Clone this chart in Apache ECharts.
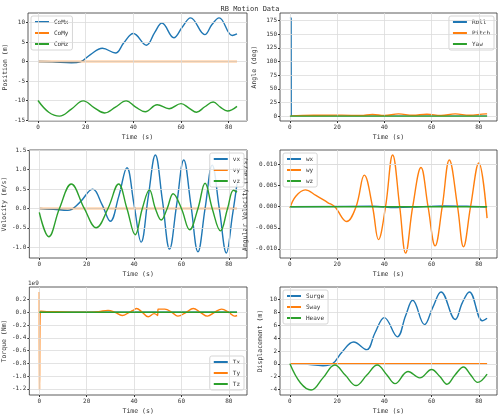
<!DOCTYPE html>
<html><head><meta charset="utf-8">
<script src="https://cdn.jsdelivr.net/npm/echarts@6/dist/echarts.min.js"></script>
<style>html,body{margin:0;padding:0;background:#fff}#c{width:500px;height:416px}</style>
</head><body><div id="c"></div>
<script>
// ---- data ([time, value]) ----
const comX = [[0,0],[6,-0.05],[14,-0.3],[18,0],[22,1.8],[27,3.4],[32.5,2.2],[36,4.8],[40,7.2],[45.5,4.2],[49,7.5],[52,9.9],[57,6.1],[60.5,8.8],[64,11.2],[70,6.9],[73,9.5],[76,11.2],[81.5,6.7],[83.5,7.1]];
const comY = [[0,0],[40,0],[83.5,0]];
const comZ = [[0,-10],[4.5,-13],[9,-14],[14,-12.2],[19,-10.1],[23.5,-11.8],[28,-13.2],[32.5,-11.7],[37,-10.1],[41,-11.7],[45,-12.9],[50,-11.1],[55,-12.1],[60,-10.8],[63.5,-12],[66.5,-13],[70,-11.6],[73.5,-10.4],[76.5,-11.7],[79.5,-12.7],[83.5,-11.5]];
const roll = [[0,180],[0.5,180],[0.55,0],[83.5,0]];
const pitch = [[0,0],[10,1.5],[22,1.8],[30,1],[35,3],[40,1],[46,4],[52,1.5],[58,3.5],[64,1],[70,4],[76,1.5],[83,4],[83.5,4]];
const yaw = [[0,0],[83.5,0]];
const vx = [[0,0],[6,-0.02],[12,-0.05],[17,0.15],[22.5,0.5],[26.5,0.1],[30,-0.33],[33.5,0.3],[37,1.05],[40,0.1],[43,-0.87],[46,0.3],[49,1.38],[52,0.2],[55,-1.05],[58,0.1],[61,1.25],[64,0.1],[67,-1.12],[70,0],[73,1.12],[76,0],[79,-1.15],[81.5,-0.2],[83.5,0.65]];
const vy = [[0,0],[83.5,0]];
const vz = [[0,-0.1],[4,-0.73],[8.5,0],[13.5,0.63],[19,0],[24,-0.5],[29,0],[33.5,0.63],[37,0],[40.5,-0.68],[43.5,0],[46.5,0.48],[49,0],[51.5,-0.3],[54,0],[56.5,0.38],[60,0],[63.5,-0.55],[67,0],[70,0.65],[73,0],[76.5,-0.58],[79.5,0],[82,0.47],[83.5,0.42]];
const wx = [[0,0],[35,0.0001],[45,-0.0002],[55,0],[65,0.0002],[75,0.0001],[83.5,-0.0001]];
const wy = [[0,-0.0003],[2.5,0.0025],[6.5,0.004],[11,0.0027],[16,0.001],[19,0],[24,-0.0035],[28,0],[31.5,0.0075],[35,0],[37.5,-0.0078],[40.5,0],[43.5,0.0123],[46.5,0],[49,-0.011],[52,0],[55.5,0.0093],[58.5,0],[61.5,-0.0093],[64.5,0],[67.5,0.0111],[71,0],[73.5,-0.0095],[76.5,0],[80,0.0104],[83.5,-0.0027]];
const wz = [[0,0],[83.5,0]];
const tx = [[0,0],[83.5,0]];
const ty = [[0,0.32],[0.1,-1.22],[0.5,0.02],[5,0.01],[20,0],[25,0.01],[29,0.03],[32,0],[35,-0.05],[38,0],[40,0.04],[41,0.06],[43.5,0],[46,-0.07],[48.5,-0.02],[50,-0.05],[50.1,0.05],[53,0.05],[56,0],[58.5,-0.06],[62,0],[65,0.06],[68,0],[71,-0.06],[74,0],[77,0.05],[80,0],[82.5,-0.06],[83.5,-0.05]];
const tz = [[0,0],[83.5,0]];
const surge = [[0,0],[6,-0.05],[14,-0.3],[18,0],[22,1.8],[27,3.4],[32.5,2.2],[36,4.8],[40,7.2],[45.5,4.2],[49,7.5],[52,9.9],[57,6.1],[60.5,8.8],[64,11.2],[70,6.9],[73,9.5],[76,11.2],[81.5,6.7],[83.5,7.1]];
const sway = [[0,0],[40,0],[83.5,0]];
const heave = [[0,0],[4.5,-3],[9,-4.1],[14,-2.2],[19,-0.2],[23.5,-1.8],[28,-3.4],[32.5,-1.8],[37,-0.2],[41,-1.7],[44.5,-3.1],[50,-1.2],[55,-2.2],[60,-0.9],[63.5,-2],[66.5,-3.2],[70,-1.7],[73.5,-0.5],[76.5,-1.7],[79.5,-2.9],[83.5,-1.6]];
const xTicks = [0,20,40,60,80];

const C = ['#1f77b4','#ff7f0e','#2ca02c'];
const F = 'DejaVu Sans Mono';
const panels = [
 {g:[28,13,219,108], y:[-15.26,12.46], yt:[-15,-10,-5,0,5,10], yn:'Position (m)', s:[['CoMx',comX],['CoMy',comY],['CoMz',comZ]], lg:'ul', ng:19},
 {g:[280,13,217,108], y:[-9,189], yt:[0,25,50,75,100,125,150,175], yn:'Angle (deg)', s:[['Roll',roll],['Pitch',pitch],['Yaw',yaw]], lg:'ur', ng:22},
 {g:[28,150,219,108], y:[-1.28,1.51], yt:[-1,-0.5,0,0.5,1,1.5], yn:'Velocity (m/s)', s:[['vx',vx],['vy',vy],['vz',vz]], lg:'ur', fmt:v=>v.toFixed(1), ng:19},
 {g:[280,150,217,108], y:[-0.01217,0.01347], yt:[-0.01,-0.005,0,0.005,0.01], yn:'Angular Velocity (rad/s)', s:[['wx',wx],['wy',wy],['wz',wz]], lg:'ul', fmt:v=>v.toFixed(3), ng:31},
 {g:[28,287,219,108], y:[-1.297,0.397], yt:[-1.2,-1,-0.8,-0.6,-0.4,-0.2,0,0.2], yn:'Torque (Nm)', s:[['Tx',tx],['Ty',ty],['Tz',tz]], lg:'lr', fmt:v=>v.toFixed(1), ng:21},
 {g:[280,287,217,108], y:[-4.87,11.97], yt:[-4,-2,0,2,4,6,8,10], yn:'Displacement (m)', s:[['Surge',surge],['Sway',sway],['Heave',heave]], lg:'ul', ng:16}
];
const grid=[],xAxis=[],yAxis=[],series=[],legend=[];
panels.forEach((p,i)=>{
  grid.push({left:p.g[0],top:p.g[1],width:p.g[2],height:p.g[3],show:true,borderColor:'#333',borderWidth:0.8,containLabel:false});
  xAxis.push({type:'value',gridIndex:i,min:-4.2,max:87.7,name:'Time (s)',nameLocation:'middle',nameGap:13,
    nameTextStyle:{fontFamily:F,fontSize:6.5,color:'#333'},
    axisLine:{show:false,onZero:false},splitLine:{show:false},
    axisTick:{show:true,length:2,customValues:xTicks,lineStyle:{color:'#333'}},
    axisLabel:{fontFamily:F,fontSize:6,color:'#333',margin:3,customValues:xTicks}});
  yAxis.push({type:'value',gridIndex:i,min:p.y[0],max:p.y[1],name:p.yn,nameLocation:'middle',nameGap:p.ng,
    nameTextStyle:{fontFamily:F,fontSize:6.5,color:'#333'},
    axisLine:{show:false,onZero:false},splitLine:{show:false},
    axisTick:{show:true,length:2,customValues:p.yt,lineStyle:{color:'#333'}},
    axisLabel:{fontFamily:F,fontSize:6,color:'#333',margin:3,customValues:p.yt,formatter:p.fmt||(v=>String(v))}});
  p.s.forEach((s,k)=>{
    const ser={type:'line',name:s[0],xAxisIndex:i,yAxisIndex:i,data:s[1],smooth:0.4,showSymbol:false,
      color:C[k],lineStyle:{width:1.4},z:3+k};
    if(k===0){
      ser.markLine={silent:true,symbol:'none',label:{show:false},animation:false,
        lineStyle:{color:'#dcdcdc',width:0.8,type:'solid'},
        data:xTicks.map(v=>({xAxis:v})).concat(p.yt.map(v=>({yAxis:v})))};
    }
    series.push(ser);
  });
  const L={data:p.s.map(s=>s[0]),orient:'vertical',itemWidth:14,itemHeight:2,itemGap:5,
    textStyle:{fontFamily:F,fontSize:6,color:'#333'},backgroundColor:'rgba(255,255,255,0.85)',
    borderColor:'#ccc',borderWidth:0.8,borderRadius:2,padding:[3,4,3,4],icon:'rect',
    itemStyle:{borderWidth:0},lineStyle:{type:'solid'}};
  if(p.lg==='ul'){L.left=p.g[0]+3;L.top=p.g[1]+3;}
  if(p.lg==='ur'){L.right=500-(p.g[0]+p.g[2])+3;L.top=p.g[1]+3;}
  if(p.lg==='lr'){L.right=500-(p.g[0]+p.g[2])+3;L.top=p.g[1]+p.g[3]-39;}
  legend.push(L);
});
const chart=echarts.init(document.getElementById('c'),null,{renderer:'canvas'});
chart.setOption({animation:false,
  title:{text:'RB Motion Data',left:'center',top:1,textStyle:{fontFamily:F,fontSize:7,fontWeight:'normal',color:'#333'}},
  graphic:[{type:'text',left:28,top:280,style:{text:'1e9',font:'6px "DejaVu Sans Mono"',fill:'#333'}}],
  grid,xAxis,yAxis,series,legend});
</script></body></html>
